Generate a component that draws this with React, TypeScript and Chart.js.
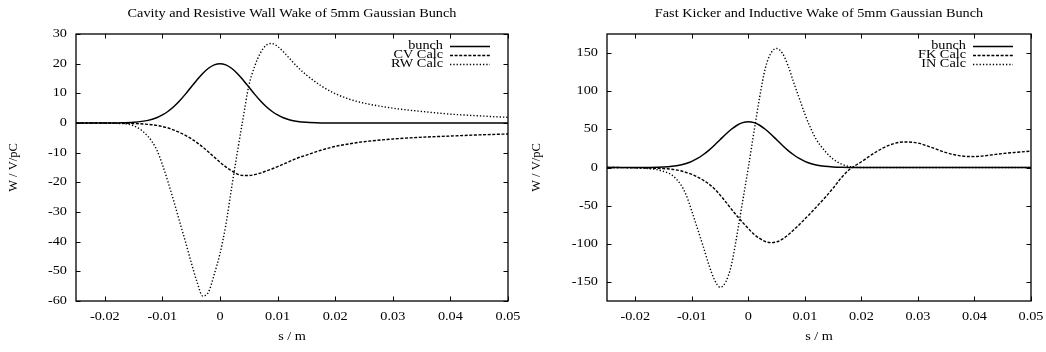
import React, { useEffect, useRef } from "react";
import { Chart, registerables } from "chart.js";

Chart.register(...registerables);

// ---------- Left chart data ----------
const LEFT_TITLE = "Cavity and Resistive Wall Wake of 5mm Gaussian Bunch";
const LEFT_LABELS = ["bunch", "CV Calc", "RW Calc"];
const S_LEFT = [
  -0.025, -0.02, -0.0175, -0.015, -0.0125, -0.011, -0.01, -0.009, -0.008, -0.007,
  -0.006, -0.005, -0.004, -0.003, -0.002, -0.001, 0, 0.001, 0.002, 0.003,
  0.004, 0.005, 0.006, 0.007, 0.008, 0.009, 0.01, 0.011, 0.012, 0.0135,
  0.015, 0.0175, 0.02, 0.0225, 0.025, 0.03, 0.035, 0.04, 0.045, 0.05,
];
const BUNCH_LEFT = [
  0, 0.01, 0.04, 0.22, 0.88, 1.78, 2.71, 3.96, 5.56, 7.51,
  9.73, 12.13, 14.52, 16.71, 18.46, 19.6, 20, 19.6, 18.46, 16.71,
  14.52, 12.13, 9.73, 7.51, 5.56, 3.96, 2.71, 1.78, 1.12, 0.52,
  0.22, 0.04, 0.01, 0, 0, 0, 0, 0, 0, 0,
];
const CV_LEFT = [
  0, 0, -0.05, -0.15, -0.45, -0.8, -1.2, -1.7, -2.4, -3.2,
  -4.2, -5.3, -6.6, -8.1, -9.8, -11.5, -13.2, -14.8, -16.1, -17.2,
  -17.7, -17.7, -17.4, -16.9, -16.2, -15.5, -14.7, -13.9, -13.0, -11.8,
  -10.8, -9.2, -7.9, -7.0, -6.3, -5.4, -4.8, -4.4, -4.0, -3.7,
];
const RW_LEFT = [
  0, -0.02, -0.15, -0.9, -4.5, -9, -14, -20, -26.5, -33.3,
  -40, -47, -53.5, -58.3, -57, -51, -44, -34.5, -22, -10,
  1.5, 12.5, 19, 23.5, 26.2, 26.8, 25.8, 24, 21.9, 18.8,
  16.2, 12.6, 9.9, 8.0, 6.7, 5.0, 3.9, 3.0, 2.4, 1.9,
];
const LEFT_Y_TICKS = [-60, -50, -40, -30, -20, -10, 0, 10, 20, 30];

// ---------- Right chart data ----------
const RIGHT_TITLE = "Fast Kicker and Inductive Wake of 5mm Gaussian Bunch";
const RIGHT_LABELS = ["bunch", "FK Calc", "IN Calc"];
const S_RIGHT = [
  -0.025, -0.02, -0.0175, -0.015, -0.0135, -0.012, -0.011, -0.01, -0.009, -0.008,
  -0.007, -0.006, -0.005, -0.004, -0.003, -0.002, -0.001, 0, 0.001, 0.002,
  0.003, 0.004, 0.005, 0.006, 0.007, 0.008, 0.009, 0.01, 0.011, 0.012,
  0.0135, 0.015, 0.0165, 0.018, 0.02, 0.0225, 0.025, 0.0275, 0.03, 0.0325,
  0.035, 0.0375, 0.04, 0.0425, 0.045, 0.0475, 0.05,
];
const BUNCH_RIGHT = [
  0, 0.02, 0.13, 0.67, 1.6, 3.4, 5.3, 8.1, 11.9, 16.7,
  22.5, 29.2, 36.4, 43.6, 50.1, 55.4, 58.8, 60, 58.8, 55.4,
  50.1, 43.6, 36.4, 29.2, 22.5, 16.7, 11.9, 8.1, 5.3, 3.4,
  1.6, 0.67, 0.26, 0.09, 0.02, 0, 0, 0, 0, 0,
  0, 0, 0, 0, 0, 0, 0,
];
const FK_RIGHT = [
  0, -0.3, -0.8, -1.5, -2.3, -4.3, -6.5, -9, -12.5, -16.5,
  -21.5, -28, -36, -45, -54.5, -63.5, -72, -80, -87.5, -93,
  -97, -98.5, -97.5, -94, -88.5, -82, -75, -67.5, -60, -52,
  -40, -27, -13, -2, 7.5, 20, 29.5, 33.5, 32, 26,
  19.5, 15.3, 14.3, 16, 18.3, 20, 21.5,
];
const IN_RIGHT = [
  0, -0.5, -1.5, -5, -10, -22, -36, -57, -80, -103,
  -127, -147, -157, -150, -128, -88, -44, 0, 47, 92,
  130, 150, 156, 150, 134, 112, 91, 70, 52, 37,
  22, 11, 4.5, 1, 0, 0, 0, 0, 0, 0,
  0, 0, 0, 0, 0, 0, 0,
];
const RIGHT_Y_TICKS = [-150, -100, -50, 0, 50, 100, 150];

// ---------- shared ----------
const X_TICKS = [-0.02, -0.01, 0, 0.01, 0.02, 0.03, 0.04, 0.05];
const X_TICK_LABELS = ["-0.02", "-0.01", "0", "0.01", "0.02", "0.03", "0.04", "0.05"];
const X_TITLE = "s / m";
const Y_TITLE = "W / V/pC";

const FONT = '11.5px "Liberation Serif", "Times New Roman", serif';
const SX = 1.24;
const DASH_SOLID: number[] = [];
const DASH_DASHED = [3, 1.6];
const DASH_DOTTED = [1.3, 2];

function txt(ctx: CanvasRenderingContext2D, s: string, x: number, y: number, align: CanvasTextAlign) {
  ctx.save();
  ctx.translate(x, y);
  ctx.scale(SX, 1);
  ctx.textAlign = align;
  ctx.textBaseline = "middle";
  ctx.fillText(s, 0, 0);
  ctx.restore();
}

const gnuplotPlugin = {
  id: "gp",
  afterDraw(chart: any, _args: any, opts: any) {
    const ctx: CanvasRenderingContext2D = chart.ctx;
    const a = chart.chartArea;
    const xs = chart.scales.x;
    const ys = chart.scales.y;
    ctx.save();
    ctx.strokeStyle = "#000";
    ctx.fillStyle = "#000";
    ctx.lineWidth = 1.3;
    ctx.setLineDash([]);
    // frame
    ctx.strokeRect(a.left, a.top, a.right - a.left, a.bottom - a.top);
    // inward ticks
    const TL = 4.5;
    ctx.lineWidth = 1;
    ctx.beginPath();
    for (const v of X_TICKS) {
      const px = Math.round(xs.getPixelForValue(v)) + 0.5;
      ctx.moveTo(px, a.bottom);
      ctx.lineTo(px, a.bottom - TL);
      ctx.moveTo(px, a.top);
      ctx.lineTo(px, a.top + TL);
    }
    for (const v of opts.yTicks) {
      const py = Math.round(ys.getPixelForValue(v)) + 0.5;
      ctx.moveTo(a.left, py);
      ctx.lineTo(a.left + TL, py);
      ctx.moveTo(a.right, py);
      ctx.lineTo(a.right - TL, py);
    }
    ctx.stroke();
    // labels
    ctx.font = FONT;
    X_TICKS.forEach((v, i) => {
      txt(ctx, X_TICK_LABELS[i], xs.getPixelForValue(v), a.bottom + 16, "center");
    });
    for (const v of opts.yTicks) {
      txt(ctx, String(v), a.left - 9, ys.getPixelForValue(v), "right");
    }
    // titles
    txt(ctx, opts.title, (a.left + a.right) / 2, 14, "center");
    txt(ctx, X_TITLE, (a.left + a.right) / 2, a.bottom + 36, "center");
    ctx.save();
    ctx.translate(14, (a.top + a.bottom) / 2);
    ctx.rotate(-Math.PI / 2);
    ctx.textAlign = "center";
    ctx.textBaseline = "middle";
    ctx.font = '12.5px "Liberation Serif", "Times New Roman", serif';
    ctx.fillText(Y_TITLE, 0, 0);
    ctx.restore();
    // legend
    chart.data.datasets.forEach((ds: any, i: number) => {
      const y = a.top + 11.5 + i * 9.3;
      txt(ctx, ds.label, a.right - 65, y, "right");
      ctx.save();
      ctx.lineWidth = ds.borderWidth;
      ctx.setLineDash(ds.borderDash || []);
      ctx.beginPath();
      ctx.moveTo(a.right - 58, Math.round(y) + 0.5);
      ctx.lineTo(a.right - 18, Math.round(y) + 0.5);
      ctx.stroke();
      ctx.restore();
    });
    ctx.restore();
  },
};

function pts(s: number[], v: number[]) {
  return s.map((x, i) => ({ x, y: v[i] }));
}

function mkDs(label: string, s: number[], v: number[], dash: number[]) {
  return {
    label,
    data: pts(s, v),
    borderColor: "#000",
    backgroundColor: "#000",
    borderWidth: dash.length === 0 ? 1.5 : 1.4,
    borderDash: dash,
    pointRadius: 0,
    fill: false,
    cubicInterpolationMode: "monotone" as const,
  };
}

interface PanelProps {
  left: number;
  padLeft: number;
  title: string;
  datasets: any[];
  yMin: number;
  yMax: number;
  yTicks: number[];
}

function Panel(p: PanelProps) {
  const ref = useRef<HTMLCanvasElement>(null);
  useEffect(() => {
    if (!ref.current) return;
    const chart = new Chart(ref.current, {
      type: "line",
      data: { datasets: p.datasets },
      options: {
        animation: false,
        responsive: false,
        devicePixelRatio: 1,
        layout: { padding: { left: p.padLeft, right: 15, top: 34, bottom: 51 } },
        scales: {
          x: { type: "linear", min: -0.025, max: 0.05, display: false },
          y: { type: "linear", min: p.yMin, max: p.yMax, display: false },
        },
        plugins: {
          legend: { display: false },
          tooltip: { enabled: false },
          title: { display: false },
          gp: { title: p.title, yTicks: p.yTicks },
        } as any,
      },
      plugins: [gnuplotPlugin],
    });
    return () => chart.destroy();
  }, []);
  return (
    <canvas
      ref={ref}
      width={523}
      height={352}
      style={{ position: "absolute", left: p.left, top: 0, width: 523, height: 352 }}
    />
  );
}

export default function App() {
  const leftSets = [
    mkDs(LEFT_LABELS[0], S_LEFT, BUNCH_LEFT, DASH_SOLID),
    mkDs(LEFT_LABELS[1], S_LEFT, CV_LEFT, DASH_DASHED),
    mkDs(LEFT_LABELS[2], S_LEFT, RW_LEFT, DASH_DOTTED),
  ];
  const rightSets = [
    mkDs(RIGHT_LABELS[0], S_RIGHT, BUNCH_RIGHT, DASH_SOLID),
    mkDs(RIGHT_LABELS[1], S_RIGHT, FK_RIGHT, DASH_DASHED),
    mkDs(RIGHT_LABELS[2], S_RIGHT, IN_RIGHT, DASH_DOTTED),
  ];
  return (
    <div style={{ position: "fixed", left: 0, top: 0, width: 1046, height: 352, background: "#fff" }}>
      <Panel left={0} padLeft={76} title={LEFT_TITLE} datasets={leftSets} yMin={-60} yMax={30} yTicks={LEFT_Y_TICKS} />
      <Panel left={523} padLeft={84} title={RIGHT_TITLE} datasets={rightSets} yMin={-175} yMax={175} yTicks={RIGHT_Y_TICKS} />
    </div>
  );
}
